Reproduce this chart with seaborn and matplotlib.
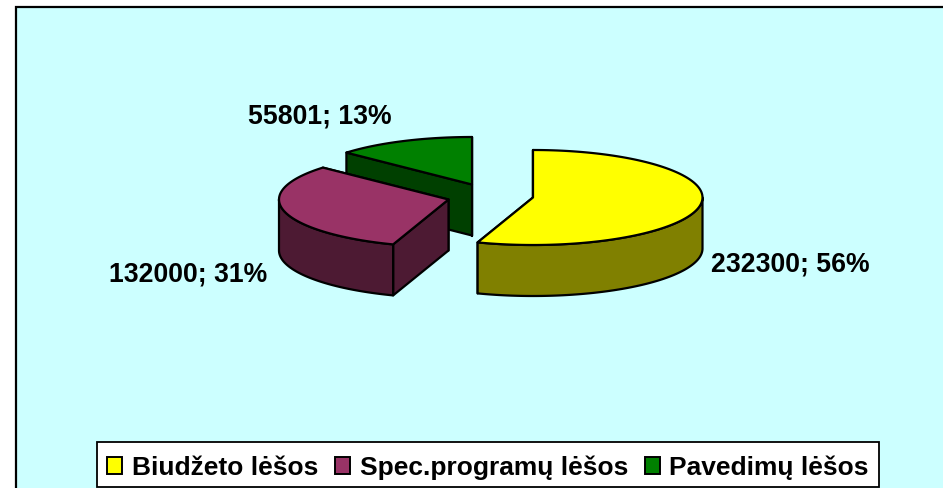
import numpy as np
import seaborn as sns
import matplotlib.pyplot as plt
from matplotlib.patches import Polygon, Rectangle, Patch

# Data
categories = ['Biudžeto lėšos', 'Spec.programų lėšos', 'Pavedimų lėšos']
values = [232300, 132000, 55801]
percents = [56, 31, 13]

# Look of the chart
top_colors = ['#FFFF00', '#993366', '#008000']
side_colors = ['#808000', '#4D1A33', '#004000']
slice_centers = [(533, 198.5), (448.5, 200.5), (472, 185.5)]
label_spots = [(790.5, 264), (188, 274), (320, 116)]
rx, ry, depth = 169.5, 47.5, 51
line_w = 1.6

sns.set_theme(style='white')
plt.rcParams['font.family'] = ['Liberation Sans', 'DejaVu Sans']

fig = plt.figure(figsize=(9.43, 4.89), dpi=100, facecolor='white')
ax = fig.add_axes([0, 0, 1, 1])
ax.set_xlim(0, 943)
ax.set_ylim(489, 0)
ax.axis('off')

# Plot area, its right and bottom edges run off the image
ax.add_patch(Rectangle((16, 8), 960, 520, facecolor='#CCFFFF', edgecolor='black', lw=1.6, zorder=0))


def rim(cx, cy, a, b):
    # angles run clockwise from the top of the pie
    t = np.radians(np.linspace(a, b, 120))
    return np.column_stack([cx + rx * np.sin(t), cy - ry * np.cos(t)])


fractions = np.array(values) / np.sum(values)
starts = np.concatenate([[0], np.cumsum(fractions)[:-1]]) * 360
ends = np.cumsum(fractions) * 360

# Back slice first so the nearer ones cover it
for i in [2, 1, 0]:
    cx, cy = slice_centers[i]
    style = dict(edgecolor='black', lw=line_w, joinstyle='round')
    z = 3 - i

    # cut faces, the hidden end face goes under the start face
    for ang in [ends[i], starts[i]]:
        p = rim(cx, cy, ang, ang)[0]
        face = [(cx, cy), p, p + [0, depth], (cx, cy + depth)]
        ax.add_patch(Polygon(face, facecolor=side_colors[i], zorder=z, **style))

    # outer wall, only the front half of the pie shows it
    a, b = max(starts[i], 90), min(ends[i], 270)
    if a < b:
        edge = rim(cx, cy, a, b)
        wall = np.vstack([edge, edge[::-1] + [0, depth]])
        ax.add_patch(Polygon(wall, facecolor=side_colors[i], zorder=z, **style))

    # top
    top = np.vstack([[(cx, cy)], rim(cx, cy, starts[i], ends[i])])
    ax.add_patch(Polygon(top, facecolor=top_colors[i], zorder=z, **style))

    x, y = label_spots[i]
    ax.text(x, y, f'{values[i]}; {percents[i]}%', ha='center', va='center',
            fontsize=19.2, fontweight='bold', color='black', zorder=6)

handles = [Patch(facecolor=c, edgecolor='black', lw=1.4) for c in top_colors]
leg = ax.legend(handles, categories, ncol=3, loc='lower left',
                bbox_to_anchor=(97 / 943, 1 - 488 / 489, 782 / 943, 47 / 489),
                mode='expand', fancybox=False, framealpha=1, facecolor='white',
                edgecolor='black', borderaxespad=0, borderpad=0.38,
                handlelength=0.58, handleheight=0.58, handletextpad=0.36,
                columnspacing=0.55, labelcolor='black',
                prop={'size': 19, 'weight': 'bold'})
leg.get_frame().set_linewidth(1.3)
leg.set_zorder(7)

# Legend entries sit a little lower in the box than the default
for t in leg.get_texts():
    t.set_y(-2)
for h in leg.get_patches():
    h.set_y(h.get_y() - 2)

fig.savefig('out.png', dpi=100)
